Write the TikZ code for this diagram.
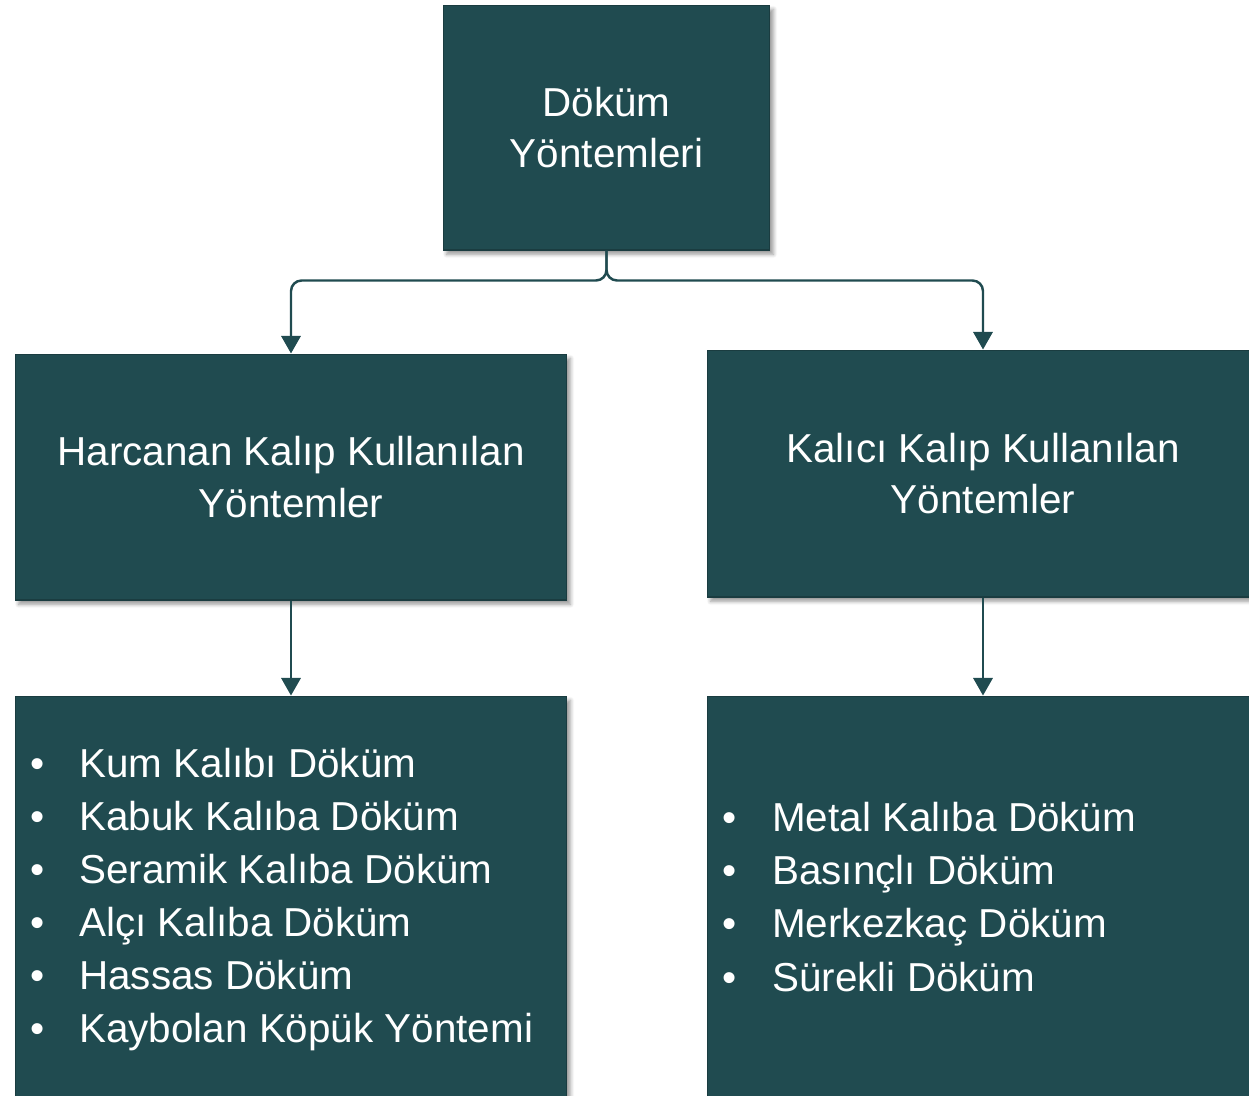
\documentclass[tikz,border=0pt]{standalone}
\usepackage{fontspec}
\setmainfont{Liberation Sans}
\usetikzlibrary{arrows.meta,shadows.blur}
\definecolor{koyu}{HTML}{204B50}

\begin{document}
\begin{tikzpicture}[x=0.02cm,y=-0.02cm,
  kutu/.style={fill=koyu,draw=koyu!80!black,line width=0.6pt,text=white,align=center,
    font=\fontsize{23}{29.5}\selectfont,
    blur shadow={shadow xshift=2pt,shadow yshift=-2.5pt,shadow blur steps=6,shadow opacity=40}},
  liste/.style={text=white,align=left,inner sep=0pt,anchor=west,
    font=\fontsize{23}{30.2}\selectfont},
  bag/.style={draw=koyu,line width=1.4pt,rounded corners=6pt,-{Triangle[width=11pt,length=10pt]}}]
% sayfa sınırı
\useasboundingbox (0,0) rectangle (1249,1096);
\clip (0,0) rectangle (1249,1096);
% kutular
\node[kutu,minimum width=6.54cm,minimum height=4.9cm] (top) at (606.5,127.5) {Döküm\\Yöntemleri};
\node[kutu,minimum width=11.04cm,minimum height=4.92cm] (harcanan) at (291,477) {Harcanan Kalıp Kullanılan\\Yöntemler};
\node[kutu,minimum width=11.04cm,minimum height=4.94cm] (kalici) at (983,473.5) {Kalıcı Kalıp Kullanılan\\Yöntemler};
\node[kutu,minimum width=11.04cm,minimum height=8.4cm] (harcananKutu) at (291,906) {};
\node[kutu,minimum width=11.04cm,minimum height=8.4cm] (kaliciKutu) at (983,906) {};
% listeler
\node[liste] (harcananListe) at (30,899.5) {%
  \makebox[0.98cm][l]{\textbullet}Kum Kalıbı Döküm\\
  \makebox[0.98cm][l]{\textbullet}Kabuk Kalıba Döküm\\
  \makebox[0.98cm][l]{\textbullet}Seramik Kalıba Döküm\\
  \makebox[0.98cm][l]{\textbullet}Alçı Kalıba Döküm\\
  \makebox[0.98cm][l]{\textbullet}Hassas Döküm\\
  \makebox[0.98cm][l]{\textbullet}Kaybolan Köpük Yöntemi};
\node[liste] (kaliciListe) at (722,897) {%
  \makebox[1cm][l]{\textbullet}Metal Kalıba Döküm\\
  \makebox[1cm][l]{\textbullet}Basınçlı Döküm\\
  \makebox[1cm][l]{\textbullet}Merkezkaç Döküm\\
  \makebox[1cm][l]{\textbullet}Sürekli Döküm};
% bağlantılar
\draw[bag] (top.south) -- ++(0,30) -| (harcanan.north);
\draw[bag] (top.south) -- ++(0,30) -| (kalici.north);
\draw[bag] (harcanan.south) -- (harcananKutu.north);
\draw[bag] (kalici.south) -- (kaliciKutu.north);
\end{tikzpicture}
\end{document}
